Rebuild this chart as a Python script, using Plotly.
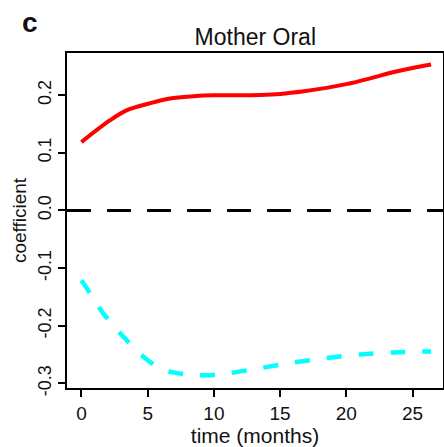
import plotly.graph_objects as go

# Data
red_t = [0, 2.14, 3.40, 5.04, 6.68, 8.44, 9.96, 11.7, 13.5, 15.0, 16.8, 18.5, 20.0, 21.8, 23.6, 25.0, 26.4]
red_v = [0.1185, 0.156, 0.1735, 0.185, 0.194, 0.198, 0.1997, 0.1997, 0.2003, 0.202, 0.2066, 0.2125, 0.219, 0.229, 0.240, 0.247, 0.253]

cyan_t = [0, 0.63, 1.63, 3.03, 4.79, 5.92, 6.93, 8.44, 9.70, 11.25, 13.5, 16.0, 18.5, 21.05, 23.6, 26.4]
cyan_v = [-0.121, -0.143, -0.178, -0.2155, -0.256, -0.2735, -0.281, -0.2857, -0.2857, -0.282, -0.2735, -0.2638, -0.256, -0.250, -0.2463, -0.2446]

x_ticks = [0, 5, 10, 15, 20, 25]
y_ticks = [-0.3, -0.2, -0.1, 0.0, 0.1, 0.2]
y_tick_text = ["-0.3", "-0.2", "-0.1", "0.0", "0.1", "0.2"]
zero_level = 0.0

FONT = "Liberation Sans, Arial, Helvetica, sans-serif"

fig = go.Figure()
fig.add_trace(go.Scatter(
    x=[-1.09, 27.3], y=[zero_level, zero_level], mode="lines",
    line=dict(color="black", width=3, dash="24px,16px"),
    showlegend=False, hoverinfo="skip"))
fig.add_trace(go.Scatter(
    x=red_t, y=red_v, mode="lines",
    line=dict(color="#ff0000", width=4, shape="spline", smoothing=1.0),
    showlegend=False))
fig.add_trace(go.Scatter(
    x=cyan_t, y=cyan_v, mode="lines",
    line=dict(color="#00ffff", width=4.5, shape="spline", smoothing=0.8, dash="15px,17px"),
    showlegend=False))

fig.update_layout(
    width=444, height=447,
    margin=dict(l=67, r=1, t=53, b=59, autoexpand=False),
    paper_bgcolor="white", plot_bgcolor="white",
    font=dict(family=FONT, color="black", size=19),
    title=dict(text="Mother Oral", x=0.575, xanchor="center", y=1 - 37/447, yanchor="middle",
               font=dict(size=23, color="#111")),
    annotations=[dict(text="<b>c</b>", xref="paper", yref="paper",
                      x=-0.098, y=1.0925, xanchor="center", yanchor="middle",
                      showarrow=False, font=dict(size=28, color="#111"))],
)
fig.update_xaxes(
    range=[-1.09, 27.3], tickvals=x_ticks, ticks="outside", ticklen=7, tickwidth=1.5,
    tickcolor="black", showline=True, linewidth=2, linecolor="black", mirror=True,
    showgrid=False, zeroline=False, tickfont=dict(size=19, color="#111"),
    automargin=False,
    title=dict(text="time (months)", font=dict(size=21, color="#111"), standoff=7))
fig.update_yaxes(
    range=[-0.308, 0.273], tickvals=y_ticks, ticktext=y_tick_text, tickangle=-90,
    ticks="outside", ticklen=7, tickwidth=1.5, tickcolor="black",
    showline=True, linewidth=2, linecolor="black", mirror=True,
    showgrid=False, zeroline=False, tickfont=dict(size=18, color="#111"),
    automargin=False,
    title=dict(text="coefficient", font=dict(size=19, color="#111"), standoff=3))

fig.write_html("out.html", config={"displayModeBar": False},
               post_script="document.body.style.margin='0';document.body.style.overflow='hidden';")
